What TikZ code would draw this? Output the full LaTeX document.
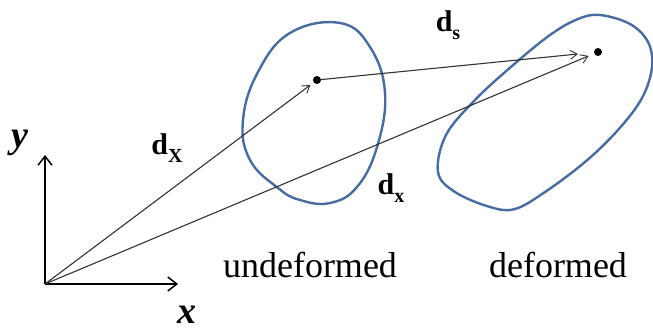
\documentclass[tikz,border=0pt]{standalone}
\usepackage{fontspec}
\setmainfont{Liberation Serif}
\usetikzlibrary{arrows.meta}
\definecolor{blobblue}{RGB}{72,108,160}
\newcommand{\vlab}[2]{\textbf{d}\raisebox{-0.28em}{\fontsize{20}{20}\selectfont\textbf{#2}}}
\tikzset{
  vec/.style={draw=black!80, line width=1.1pt, -{Straight Barb[length=7pt,width=9pt,line width=0.9pt]}},
  axis/.style={draw=black, line width=1.8pt, -{Straight Barb[length=9pt,width=14pt,line width=1.5pt]}},
  blob/.style={draw=blobblue, line width=2.4pt},
  dot/.style={circle, fill=black, inner sep=0pt, minimum size=8pt},
  lab/.style={font=\fontsize{30}{30}\selectfont, inner sep=0pt},
  axlab/.style={font=\fontsize{38}{38}\selectfont\bfseries\itshape, inner sep=0pt},
  txt/.style={font=\fontsize{36}{36}\selectfont, inner sep=0pt}
}
\begin{document}
\begin{tikzpicture}[x=1pt,y=-1pt]
\useasboundingbox (0,0) rectangle (653,334);
% blobs
\draw[blob] plot[smooth cycle, tension=0.7] coordinates {
 (340,23) (370,47) (385,93) (377,147) (357,187) (330,203) (300,200) (278,188)
 (250,160) (243,120) (258,72) (290,33)};
\draw[blob] plot[smooth cycle, tension=0.6] coordinates {
 (600,15) (630,24) (648,42) (652,67) (642,98) (618,130) (585,162) (545,192)
 (515,209) (490,207) (455,192) (438,172) (446,135) (475,100) (512,66) (550,35) (578,19)};
% points
\coordinate (O) at (45,284);
\coordinate (Y) at (45,155);
\coordinate (X) at (178,284);
\node[dot] (P1) at (317,80) {};
\node[dot] (P2) at (598,52) {};
% axes
\draw[axis] (O) -- (Y);
\draw[axis] (O) -- (X);
% vectors
\draw[vec, shorten >=4pt] (O) -- (P1);
\draw[vec, shorten >=6pt] (O) -- (P2);
\draw[vec, shorten >=16pt] (P1) -- (P2);
% labels
\node[axlab] (ly) at (20,143) {y};
\node[axlab] (lx) at (187,315) {x};
\node[lab] (ldX) at (167,148) {\vlab{d}{X}};
\node[lab] (lds) at (448,25) {\vlab{d}{s}};
\node[lab] (ldx) at (391,188) {\vlab{d}{x}};
\node[txt] (tu) at (310,265) {undeformed};
\node[txt] (td) at (558,265) {deformed};
\end{tikzpicture}
\end{document}
